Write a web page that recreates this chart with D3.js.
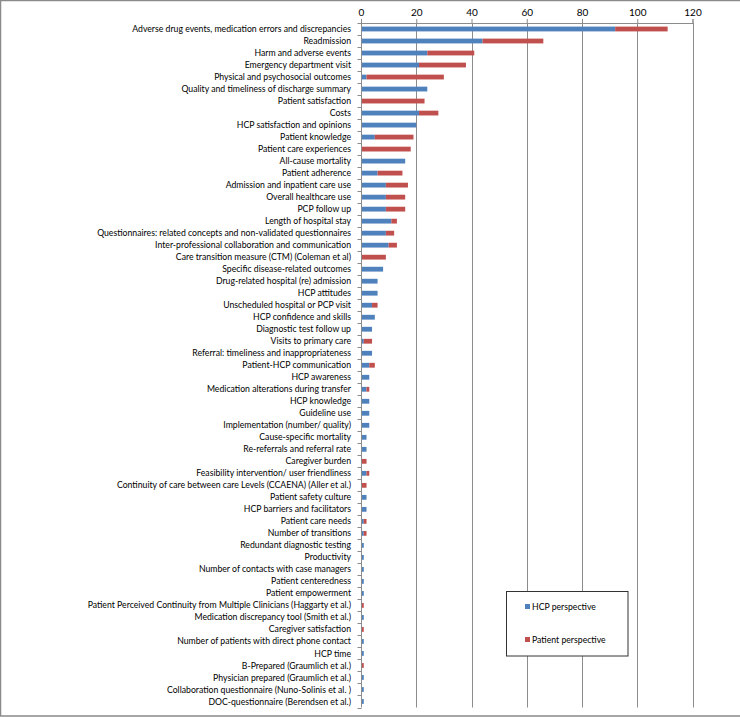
<!DOCTYPE html>
<html><head><meta charset="utf-8">
<script src="https://cdn.jsdelivr.net/npm/d3@7/dist/d3.min.js"></script>
<style>body{margin:0;background:#fff}text{font-family:Lato,"Open Sans",sans-serif;fill:#000}</style>
</head><body>
<svg id="c" width="740" height="717"></svg>
<script>
const categories = [
"Adverse drug events, medication errors and discrepancies","Readmission","Harm and adverse events","Emergency department visit","Physical and psychosocial outcomes","Quality and timeliness of discharge summary","Patient satisfaction","Costs","HCP satisfaction and opinions","Patient knowledge","Patient care experiences","All-cause mortality","Patient adherence","Admission and inpatient care use","Overall healthcare use","PCP follow up","Length of hospital stay","Questionnaires: related concepts and non-validated questionnaires","Inter-professional collaboration and communication","Care transition measure (CTM) (Coleman et al)","Specific disease-related outcomes","Drug-related hospital (re) admission","HCP attitudes","Unscheduled hospital or PCP visit","HCP confidence and skills","Diagnostic test follow up","Visits to primary care","Referral: timeliness and inappropriateness","Patient-HCP communication","HCP awareness","Medication alterations during transfer","HCP knowledge","Guideline use","Implementation (number/ quality)","Cause-specific mortality","Re-referrals and referral rate","Caregiver burden","Feasibility intervention/ user friendliness","Continuity of care between care Levels (CCAENA) (Aller et al.)","Patient safety culture","HCP barriers and facilitators","Patient care needs","Number of transitions","Redundant diagnostic testing","Productivity","Number of contacts with case managers","Patient centeredness","Patient empowerment","Patient Perceived Continuity from Multiple Clinicians (Haggarty et al.)","Medication discrepancy tool (Smith et al.)","Caregiver satisfaction","Number of patients with direct phone contact","HCP time","B-Prepared (Graumlich et al.)","Physician prepared (Graumlich et al.)","Collaboration questionnaire (Nuno-Solinis et al. )","DOC-questionnaire (Berendsen et al.)"];
const hcp =     [92,44,24,21,2,24,0,21,20,5,0,16,6,9,9,9,11,9,10,0,8,6,6,4,5,4,1,4,3,3,2,3,3,3,2,2,0,2,0,2,2,1,1,1,1,1,1,1,0,1,0,1,1,0,1,1,1];
const patient = [19,22,17,17,28,0,23,7,0,14,18,0,9,8,7,7,2,3,3,9,0,0,0,2,0,0,3,0,2,0,1,0,0,0,0,0,2,1,2,0,0,1,1,0,0,0,0,0,1,0,1,0,0,1,0,0,0];
const seriesNames = ["HCP perspective","Patient perspective"];
const colors = ["#4F81BD","#C0504D"];
const xTicks = [0,20,40,60,80,100,120];

const svg = d3.select("#c");
svg.append("rect").attr("x",0.5).attr("y",0.5).attr("width",760).attr("height",715.5)
  .attr("fill","none").attr("stroke","#8a8a8a").attr("stroke-width",1.5);

const L=361, R=692.5, T=23, B=707.5;
const x = d3.scaleLinear().domain([0,120]).range([L,R]);
const y = d3.scaleBand().domain(categories).range([T,B]).paddingInner(0.6).paddingOuter(0.3);
const yb = d3.scaleBand().domain(categories).range([T,B]);

svg.append("g").selectAll("line").data(xTicks.slice(1)).join("line")
  .attr("x1",d=>Math.round(x(d))+0.5).attr("x2",d=>Math.round(x(d))+0.5)
  .attr("y1",T).attr("y2",B).attr("stroke","#8c8c8c").attr("stroke-width",1);

const ax = svg.append("g").attr("transform",`translate(0,${T})`)
  .call(d3.axisTop(x).tickValues(xTicks).tickSize(4).tickPadding(3));
ax.select(".domain").attr("stroke","#8c8c8c");
ax.selectAll(".tick line").attr("stroke","#8c8c8c");
ax.selectAll("text").attr("font-size","10px").style("font-family","Lato,sans-serif");

const data = categories.map((c,i)=>({c, v:[hcp[i],patient[i]]}));
const g = svg.append("g");
data.forEach(d=>{
  let acc=0;
  d.v.forEach((v,k)=>{
    if(v>0){
      g.append("rect").attr("x",x(acc)).attr("y",y(d.c)).attr("width",x(acc+v)-x(acc))
       .attr("height",y.bandwidth()).attr("fill",colors[k]);
    }
    acc+=v;
  });
});

const ay = svg.append("g").attr("transform",`translate(${Math.round(L)+0.5},0)`);
ay.append("line").attr("y1",T).attr("y2",B).attr("stroke","#8c8c8c");
const bounds = categories.map(c=>yb(c)).concat([B]);
ay.selectAll("line.t").data(bounds).join("line").attr("class","t")
  .attr("x1",-4).attr("x2",0).attr("y1",d=>Math.round(d)+0.5).attr("y2",d=>Math.round(d)+0.5).attr("stroke","#8c8c8c");
const labels = svg.append("g").selectAll("text").data(categories).join("text")
  .attr("x",351).attr("y",d=>yb(d)+yb.bandwidth()/2).attr("dy","0.35em")
  .attr("text-anchor","end").attr("font-size","9.5px").text(d=>d);
// fit font size so the first label spans ~219px like the reference
const w0 = labels.filter((d,i)=>i===0).node().getComputedTextLength();
const fs = 9.5*219/w0;
labels.attr("font-size",fs+"px");

const lg = svg.append("g");
lg.append("rect").attr("x",506.5).attr("y",591.5).attr("width",121.5).attr("height",64.5)
  .attr("fill","#fff").attr("stroke","#333").attr("stroke-width",1);
seriesNames.forEach((n,i)=>{
  const yy = 607 + i*33;
  lg.append("rect").attr("x",525).attr("y",yy-3).attr("width",5).attr("height",5).attr("fill",colors[i]);
  lg.append("text").attr("x",532).attr("y",yy).attr("dy","0.35em").attr("font-size",fs+"px").text(n);
});
</script>
</body></html>
